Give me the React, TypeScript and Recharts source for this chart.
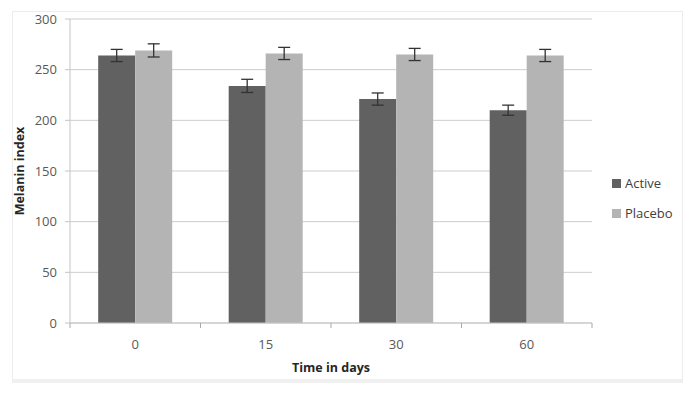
import React from 'react';
import {
  BarChart,
  Bar,
  XAxis,
  YAxis,
  CartesianGrid,
  ErrorBar,
} from 'recharts';

const days = ['0', '15', '30', '60'];
const activeValues = [264, 234, 221, 210];
const activeErrors = [6, 6.5, 6, 5];
const placeboValues = [269, 266, 265, 264];
const placeboErrors = [6.5, 6, 6, 6];
const yTicks = [0, 50, 100, 150, 200, 250, 300];

const data = days.map((day, i) => ({
  day,
  active: activeValues[i],
  activeErr: activeErrors[i],
  placebo: placeboValues[i],
  placeboErr: placeboErrors[i],
}));

const FONT = '"Open Sans", sans-serif';
const ACTIVE = '#616161';
const PLACEBO = '#b4b4b4';
const AXIS = '#c4c4c4';
const TICK_SIZE = 5;
const TICK_MARGIN = 12;

// category label plus Excel-style tick marks on the category boundaries
function DayTick({ x, y, payload, index, visibleTicksCount }: any) {
  const half = payload.offset ?? 0;
  const axisY = y - TICK_SIZE - TICK_MARGIN;
  const last = index === visibleTicksCount - 1;
  return (
    <g>
      <line x1={x - half} x2={x - half} y1={axisY} y2={axisY + TICK_SIZE} stroke="#a8a8a8" />
      {last && <line x1={x + half} x2={x + half} y1={axisY} y2={axisY + TICK_SIZE} stroke="#a8a8a8" />}
      <text x={x} y={y} dy="0.71em" textAnchor="middle" fill="#595959" fontSize={13} fontFamily={FONT}>
        {payload.value}
      </text>
    </g>
  );
}

function LegendBox() {
  const items = [
    { name: 'Active', color: ACTIVE },
    { name: 'Placebo', color: PLACEBO },
  ];
  return (
    <div style={{ position: 'absolute', left: 612, top: 168, fontFamily: FONT, fontSize: 13, color: '#404040' }}>
      {items.map((it) => (
        <div key={it.name} style={{ display: 'flex', alignItems: 'center', height: 30 }}>
          <span style={{ width: 9, height: 9, background: it.color, marginRight: 4 }} />
          <span>{it.name}</span>
        </div>
      ))}
    </div>
  );
}

export default function App() {
  return (
    <div style={{ position: 'absolute', left: 0, top: 0, width: 694, height: 393, background: '#fff' }}>
      <div
        style={{
          position: 'absolute',
          left: 12,
          top: 11,
          width: 669,
          height: 367,
          border: '1px solid #ececec',
          borderBottom: '4px solid #f0f0f0',
        }}
      />
      <BarChart
        width={694}
        height={393}
        data={data}
        margin={{ top: 19, right: 102, left: 0, bottom: 0 }}
        barCategoryGap="21.6%"
        barGap={0}
        style={{ position: 'absolute', left: 0, top: 0 }}
      >
        <CartesianGrid stroke="#cdcdcd" vertical={false} />
        <XAxis
          dataKey="day"
          height={70}
          axisLine={{ stroke: AXIS }}
          tickLine={false}
          tickSize={TICK_SIZE}
          tickMargin={TICK_MARGIN}
          tick={<DayTick />}
          label={{
            content: ({ viewBox }: any) => (
              <text
                x={viewBox.x + viewBox.width / 2}
                y={viewBox.y + 49}
                textAnchor="middle"
                fontFamily={FONT}
                fontSize={12.5}
                fontWeight="bold"
                fill="#262626"
              >
                Time in days
              </text>
            ),
          }}
        />
        <YAxis
          width={70}
          domain={[0, 300]}
          ticks={yTicks}
          axisLine={{ stroke: AXIS }}
          tickLine={{ stroke: AXIS }}
          tickSize={5}
          tickMargin={8}
          tick={{ fill: '#595959', fontSize: 13, fontFamily: FONT }}
          label={{
            content: ({ viewBox }: any) => {
              const x = 19;
              const y = viewBox.y + viewBox.height / 2;
              return (
                <text
                  x={x}
                  y={y}
                  transform={`rotate(-90 ${x} ${y})`}
                  textAnchor="middle"
                  dominantBaseline="central"
                  fontFamily={FONT}
                  fontSize={12.5}
                  fontWeight="bold"
                  fill="#262626"
                >
                  Melanin index
                </text>
              );
            },
          }}
        />
        <Bar dataKey="active" name="Active" fill={ACTIVE} isAnimationActive={false}>
          <ErrorBar dataKey="activeErr" width={6} stroke="#333" strokeWidth={1.3} />
        </Bar>
        <Bar dataKey="placebo" name="Placebo" fill={PLACEBO} isAnimationActive={false}>
          <ErrorBar dataKey="placeboErr" width={6} stroke="#333" strokeWidth={1.3} />
        </Bar>
      </BarChart>
      <LegendBox />
    </div>
  );
}
